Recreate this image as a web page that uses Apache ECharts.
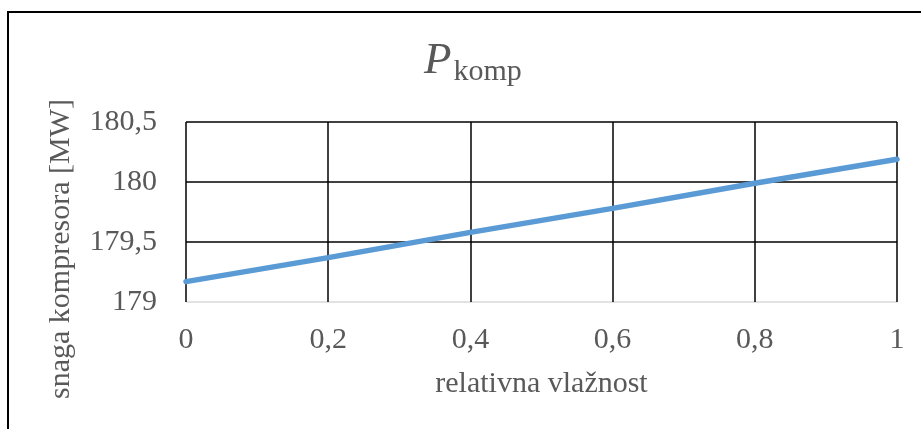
<!DOCTYPE html>
<html>
<head>
<meta charset="utf-8">
<script src="https://cdn.jsdelivr.net/npm/echarts@6/dist/echarts.min.js"></script>
<style>html,body{margin:0;padding:0;background:#fff;}#c{width:921px;height:429px;}</style>
</head>
<body>
<div id="c"></div>
<script>
const humidity = [0, 0.2, 0.4, 0.6, 0.8, 1];
const power = [179.17, 179.37, 179.58, 179.78, 179.99, 180.19];
const xTicks = [0, 0.2, 0.4, 0.6, 0.8, 1];
const yTicks = [179, 179.5, 180, 180.5];

const font = 'Liberation Serif, Times New Roman, serif';
const grey = '#595959';
const fmt = v => String(Math.round(v * 10) / 10).replace('.', ',');

const chart = echarts.init(document.getElementById('c'), null, {renderer: 'canvas'});
chart.setOption({
  animation: false,
  backgroundColor: '#fff',
  title: {
    left: 419, top: 34,
    text: '{p|P}{s|komp}',
    textStyle: {
      fontWeight: 'normal',
      rich: {
        p: {fontFamily: font, fontStyle: 'italic', fontWeight: 'normal', fontSize: 45, color: grey, lineHeight: 48, verticalAlign: 'top', padding: [0, 2, 7, 0]},
        s: {fontFamily: font, fontWeight: 'normal', fontSize: 30, color: grey, lineHeight: 28, verticalAlign: 'bottom'}
      }
    }
  },
  grid: {left: 186, top: 122, right: 24, bottom: 127, containLabel: false},
  xAxis: {
    type: 'value', min: xTicks[0], max: xTicks[xTicks.length - 1], interval: 0.2,
    name: 'relativna vlažnost', nameLocation: 'middle', nameGap: 67,
    nameTextStyle: {fontFamily: font, fontSize: 30, color: grey},
    axisLine: {show: false},
    axisTick: {show: false},
    axisLabel: {fontFamily: font, fontSize: 30, color: grey, margin: 23, formatter: fmt},
    splitLine: {show: true, lineStyle: {color: '#000', width: 1.5}}
  },
  yAxis: {
    type: 'value', min: yTicks[0], max: yTicks[yTicks.length - 1], interval: 0.5,
    axisLine: {show: false},
    axisTick: {show: false},
    axisLabel: {fontFamily: font, fontSize: 30, color: grey, margin: 29, formatter: fmt},
    splitLine: {show: true, lineStyle: {color: ['#d9d9d9', '#000', '#000', '#000'], width: 1.5}}
  },
  graphic: [
    {type: 'rect', shape: {x: 8, y: 12, width: 1000, height: 1000}, style: {fill: 'none', stroke: '#000', lineWidth: 2}, z: -10, silent: true},
    {type: 'text', x: 61, y: 249, rotation: Math.PI / 2,
     style: {text: 'snaga kompresora [MW]', font: '30px ' + font, fill: grey, textAlign: 'center', textVerticalAlign: 'middle'}}
  ],
  series: [{
    type: 'line',
    data: humidity.map((h, i) => [h, power[i]]),
    showSymbol: false,
    lineStyle: {color: '#5B9BD5', width: 5.5, cap: 'round'},
    itemStyle: {color: '#5B9BD5'},
    z: 5
  }]
});
</script>
</body>
</html>
